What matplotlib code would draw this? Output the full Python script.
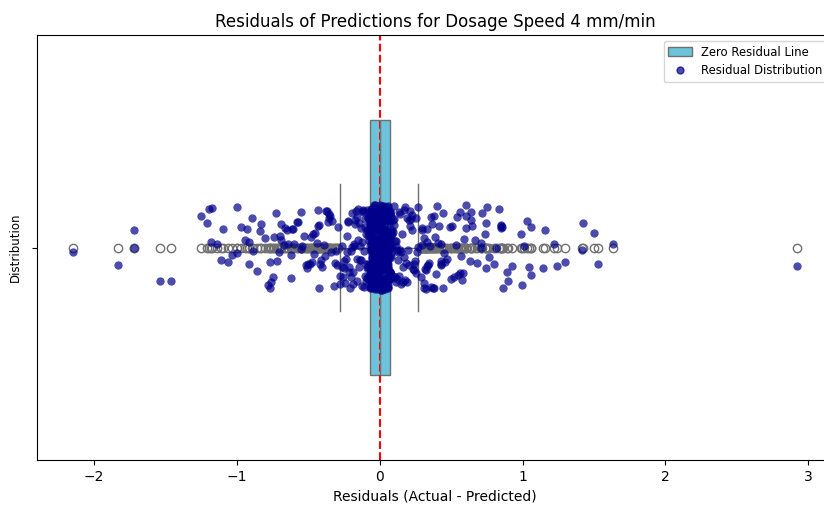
import numpy as np
import matplotlib
matplotlib.use('Agg')
import matplotlib.pyplot as plt
import seaborn as sns
from matplotlib.patches import Patch
from matplotlib.lines import Line2D

# Residual values
left_outliers = [-2.145, -1.834, -1.718, -1.718, -1.538, -1.462, -1.25, -1.21, -1.195, -1.18,
                 -1.17, -1.14, -1.112, -1.093, -1.06, -1.03, -1.0, -0.995, -0.97, -0.944,
                 -0.93, -0.914, -0.914, -0.89, -0.883, -0.86, -0.84, -0.827, -0.80, -0.781,
                 -0.769, -0.767, -0.76, -0.743, -0.74, -0.727, -0.715, -0.706, -0.70, -0.692,
                 -0.692, -0.669, -0.66, -0.65, -0.64, -0.622, -0.62, -0.61, -0.606, -0.60,
                 -0.58, -0.57, -0.552, -0.548, -0.541, -0.53, -0.513, -0.506, -0.50, -0.49,
                 -0.48, -0.47, -0.464, -0.46, -0.45, -0.44, -0.431, -0.431, -0.424, -0.424,
                 -0.42, -0.41, -0.401, -0.39, -0.38, -0.378, -0.371, -0.36, -0.354, -0.354,
                 -0.35, -0.34, -0.33, -0.32, -0.31, -0.305, -0.30, -0.29]
left_inner = [-0.279, -0.274, -0.266, -0.262, -0.255, -0.251, -0.246, -0.243, -0.238, -0.231,
              -0.228, -0.224, -0.219, -0.214, -0.212, -0.207, -0.203, -0.199, -0.196, -0.191,
              -0.188, -0.184, -0.181, -0.177, -0.172, -0.169, -0.166, -0.161, -0.158, -0.155,
              -0.151, -0.149, -0.144, -0.141, -0.137, -0.134, -0.131, -0.127, -0.124, -0.121,
              -0.118, -0.116, -0.113, -0.109, -0.107, -0.104, -0.101, -0.099, -0.097, -0.094,
              -0.092, -0.09, -0.089, -0.087, -0.085, -0.084, -0.082, -0.081, -0.08, -0.079,
              -0.078, -0.078, -0.077, -0.076, -0.076, -0.075, -0.075]
center_levels = [-0.07, -0.06, -0.05, -0.04, -0.03, -0.02, -0.01, 0.0,
                 0.01, 0.02, 0.03, 0.04, 0.05, 0.06, 0.07]
center_counts = [18, 19, 20, 21, 22, 23, 23, 24, 23, 23, 22, 21, 20, 19, 18]
right_inner = [0.075, 0.075, 0.076, 0.077, 0.078, 0.079, 0.08, 0.082, 0.083, 0.085,
               0.087, 0.088, 0.091, 0.093, 0.095, 0.098, 0.101, 0.103, 0.106, 0.109,
               0.112, 0.114, 0.118, 0.121, 0.124, 0.128, 0.131, 0.135, 0.138, 0.142,
               0.145, 0.149, 0.153, 0.156, 0.161, 0.164, 0.168, 0.172, 0.177, 0.181,
               0.185, 0.19, 0.194, 0.198, 0.203, 0.207, 0.212, 0.216, 0.221, 0.225,
               0.229, 0.234, 0.238, 0.243, 0.247, 0.252, 0.256, 0.261, 0.266, 0.27]
right_outliers = [0.29, 0.295, 0.30, 0.30, 0.31, 0.31, 0.31, 0.32, 0.322, 0.322,
                  0.329, 0.333, 0.333, 0.34, 0.345, 0.35, 0.357, 0.36, 0.37, 0.376,
                  0.378, 0.38, 0.39, 0.392, 0.40, 0.41, 0.415, 0.427, 0.427, 0.43,
                  0.431, 0.44, 0.445, 0.45, 0.46, 0.47, 0.49, 0.50, 0.508, 0.52,
                  0.531, 0.54, 0.55, 0.559, 0.562, 0.57, 0.578, 0.585, 0.59, 0.601,
                  0.601, 0.606, 0.631, 0.636, 0.641, 0.648, 0.67, 0.683, 0.706, 0.706,
                  0.713, 0.734, 0.741, 0.746, 0.75, 0.764, 0.80, 0.811, 0.834, 0.846,
                  0.846, 0.846, 0.858, 0.865, 0.888, 0.90, 0.928, 0.986, 0.993, 1.009,
                  1.028, 1.044, 1.056, 1.056, 1.142, 1.154, 1.219, 1.243, 1.30, 1.415,
                  1.422, 1.499, 1.527, 1.632, 2.92]

residuals = np.concatenate([left_outliers, left_inner,
                            np.repeat(center_levels, center_counts),
                            right_inner, right_outliers])

box_color = '#6cc4dc'
line_color = '#707070'

# seaborn jitter draws from numpy's global generator
np.random.seed(3)

fig = plt.figure(figsize=(8.24, 5.05), dpi=100)
# axes runs a little past the right edge, like the cropped original
ax = fig.add_axes([37 / 824, 45 / 505, 796 / 824, 425 / 505])

sns.boxplot(x=residuals, color=box_color, saturation=1, width=0.6, linecolor=line_color,
            flierprops=dict(marker='o', markerfacecolor='none', markeredgecolor=line_color),
            ax=ax)
sns.stripplot(x=residuals, color='darkblue', alpha=0.7, size=6, jitter=True, ax=ax)
ax.axvline(0, color='red', linestyle='--', linewidth=1.5)

ax.set_title('Residuals of Predictions for Dosage Speed 4 mm/min', fontsize=12)
ax.set_xlabel('Residuals (Actual - Predicted)', fontsize=10)
ax.set_ylabel('Distribution', fontsize=8.5)
ax.spines['right'].set_visible(False)

handles = [Patch(facecolor=box_color, edgecolor=line_color),
           Line2D([], [], marker='o', linestyle='none', color='darkblue', alpha=0.7, markersize=5)]
ax.legend(handles, ['Zero Residual Line', 'Residual Distribution'], loc='upper right',
          fontsize=8.4)

fig.savefig('out.png', dpi=100)
